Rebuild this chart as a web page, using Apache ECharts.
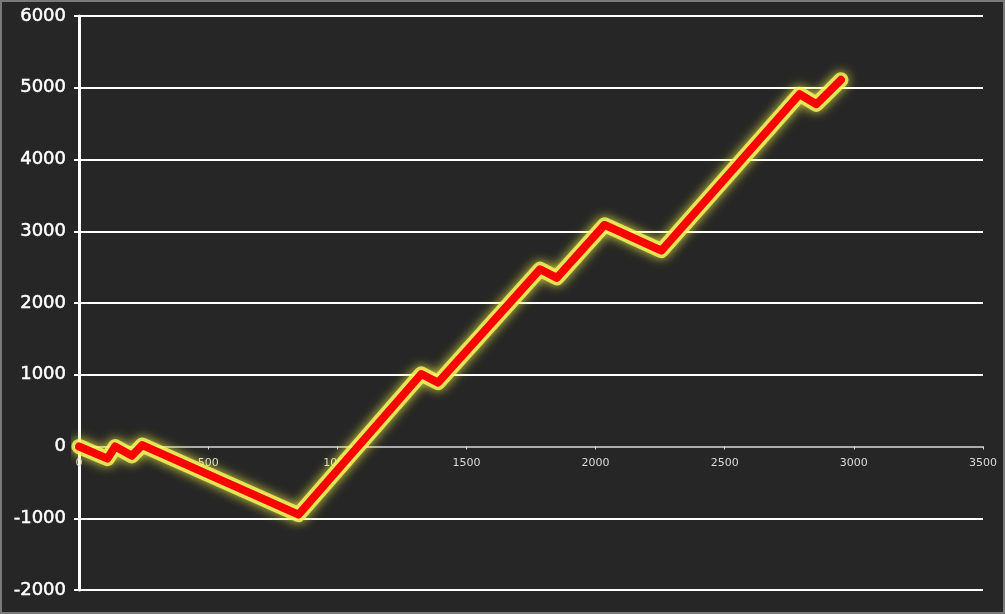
<!DOCTYPE html>
<html>
<head>
<meta charset="utf-8">
<script src="https://cdn.jsdelivr.net/npm/echarts@6/dist/echarts.min.js"></script>
<style>
html,body{margin:0;padding:0;background:#262626;}
#c{width:1005px;height:614px;position:relative;}
#frame{position:absolute;left:0;top:0;width:1005px;height:614px;box-sizing:border-box;border:2px solid #7a7a7a;pointer-events:none;}
</style>
</head>
<body>
<div id="c"></div>
<div id="frame"></div>
<script>
const xValues = [0, 110, 140, 205, 245, 850, 1325, 1390, 1785, 1850, 2035, 2255, 2790, 2855, 2950];
const yValues = [0, -170, 0, -130, 20, -950, 1010, 890, 2470, 2350, 3090, 2730, 4910, 4770, 5110];
const xTicks = [0, 500, 1000, 1500, 2000, 2500, 3000, 3500];
const yTicks = [-2000, -1000, 0, 1000, 2000, 3000, 4000, 5000, 6000];

const W = 1005, H = 614;
const grid = {left: 79, right: 22, top: 16, bottom: 24};
const yMin = yTicks[0], yMax = yTicks[yTicks.length - 1];
const plotH = H - grid.top - grid.bottom;
// move x axis up so it sits on y = 0
const xAxisOffset = -plotH * (0 - yMin) / (yMax - yMin);

const points = xValues.map((x, i) => [x, yValues[i]]);
const chart = echarts.init(document.getElementById('c'), null, {renderer: 'canvas'});
chart.setOption({
  backgroundColor: '#262626',
  animation: false,
  grid: Object.assign({containLabel: false}, grid),
  xAxis: {
    type: 'value', z: 1,
    position: 'bottom', offset: xAxisOffset,
    min: xTicks[0], max: xTicks[xTicks.length - 1], interval: 500,
    axisLine: {show: true, onZero: false, lineStyle: {color: '#d9d9d9', width: 1.5}},
    axisTick: {show: true, length: 3, lineStyle: {color: '#d9d9d9'}},
    axisLabel: {color: '#d9d9d9', fontSize: 11, fontFamily: 'DejaVu Sans', margin: 11, formatter: v => String(v)},
    splitLine: {show: false}
  },
  yAxis: {
    type: 'value',
    min: yMin, max: yMax, interval: 1000,
    axisLine: {show: true, onZero: false, lineStyle: {color: '#ffffff', width: 3}},
    axisTick: {show: true, length: 5, lineStyle: {color: '#ffffff', width: 2}},
    axisLabel: {color: '#ffffff', fontSize: 18, fontFamily: 'DejaVu Sans', margin: 13, textBorderColor: '#ffffff', textBorderWidth: 0.5, formatter: v => String(v)},
    splitLine: {show: true, lineStyle: {color: yTicks.map(v => v === 0 ? 'rgba(0,0,0,0)' : '#ffffff'), width: 2}}
  },
  series: [
    {
      type: 'line', data: points, symbol: 'none', silent: true, z: 2,
      lineStyle: {color: 'rgba(250,250,95,0.8)', width: 15, cap: 'round', join: 'round', shadowColor: 'rgba(255,255,70,1)', shadowBlur: 11}
    },
    {
      type: 'line', data: points, symbol: 'none', z: 3,
      lineStyle: {color: '#ff0000', width: 8, cap: 'round', join: 'round'}
    }
  ]
});
</script>
</body>
</html>
